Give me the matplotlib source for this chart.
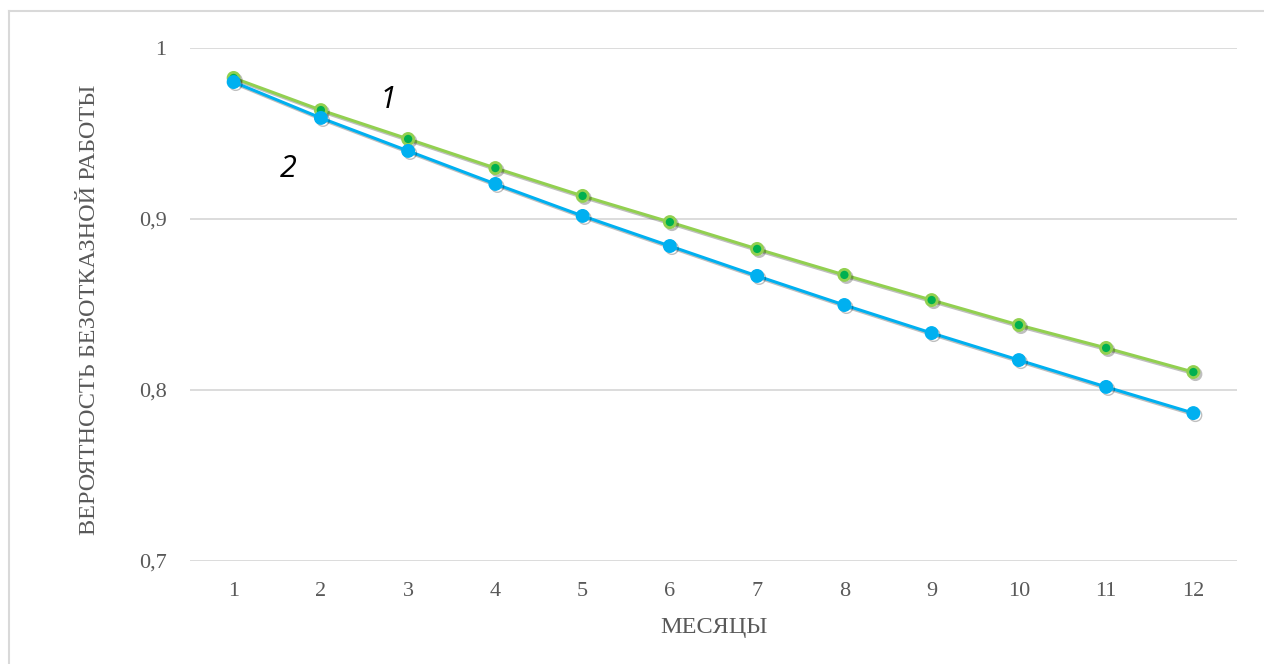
import matplotlib.pyplot as plt
import matplotlib.patheffects as pe
from matplotlib.lines import Line2D

# probability of failure-free operation by month
months = [1, 2, 3, 4, 5, 6, 7, 8, 9, 10, 11, 12]
p1 = [0.9825, 0.9637, 0.9468, 0.9298, 0.9135, 0.8982, 0.8825, 0.8673, 0.8526, 0.8380, 0.8246, 0.8105]
p2 = [0.9801, 0.9591, 0.9398, 0.9205, 0.9018, 0.8842, 0.8667, 0.8497, 0.8333, 0.8175, 0.8018, 0.7865]
yticks = [0.7, 0.8, 0.9, 1.0]
ylabels = ['0,7', '0,8', '0,9', '1']

plt.rcParams['font.family'] = ['Liberation Serif', 'DejaVu Serif']
grey = '#595959'

fig = plt.figure(figsize=(12.64, 6.64), dpi=100)
ax = fig.add_axes([190/1264, 1-561/664, (1237-190)/1264, (561-48)/664])

shadow = [pe.SimpleLineShadow(offset=(1.5, -1.5), alpha=0.25, shadow_color='k'), pe.Normal()]
ax.plot(months, p1, '-o', color='#92D050', lw=2.2, ms=8, mfc='#00B050', mec='#92D050', mew=2,
        path_effects=shadow, zorder=3)
ax.plot(months, p2, '-o', color='#00B0F0', lw=2.2, ms=9, mfc='#00B0F0', mec='#00B0F0',
        path_effects=shadow, zorder=4)

ax.set_xlim(0.5, 12.5)
ax.set_ylim(0.7, 1.0)
ax.set_xticks(months)
ax.set_xticklabels([str(m) for m in months])
ax.set_yticks(yticks)
ax.set_yticklabels(ylabels)
ax.tick_params(length=0, labelsize=16, colors=grey, pad=15)
ax.tick_params(axis='y', pad=17)
ax.grid(axis='y', color='#D9D9D9', lw=1.3)
ax.set_axisbelow(True)
for s in ax.spines.values():
    s.set_visible(False)

ax.set_xlabel('МЕСЯЦЫ', fontsize=17.5, color=grey, va='center')
ax.set_ylabel('ВЕРОЯТНОСТЬ БЕЗОТКАЗНОЙ РАБОТЫ', fontsize=17.5, color=grey, va='center')
ax.xaxis.set_label_coords(0.5, -(628-561)/513)
ax.yaxis.set_label_coords(-(190-90)/1047, 0.5 - 5/513)

ax.text(2.77, 0.9695, '1', fontsize=22, style='italic', family='Open Sans', ha='center', va='center')
ax.text(1.63, 0.9290, '2', fontsize=22, style='italic', family='Open Sans', ha='center', va='center')

# chart frame: only top and left edges fall inside the image
fig.add_artist(Line2D([9/1264, 1], [1-11/664, 1-11/664], color='#D9D9D9', lw=1.5))
fig.add_artist(Line2D([9/1264, 9/1264], [0, 1-11/664], color='#D9D9D9', lw=1.5))

fig.savefig('out.png', dpi=100)
